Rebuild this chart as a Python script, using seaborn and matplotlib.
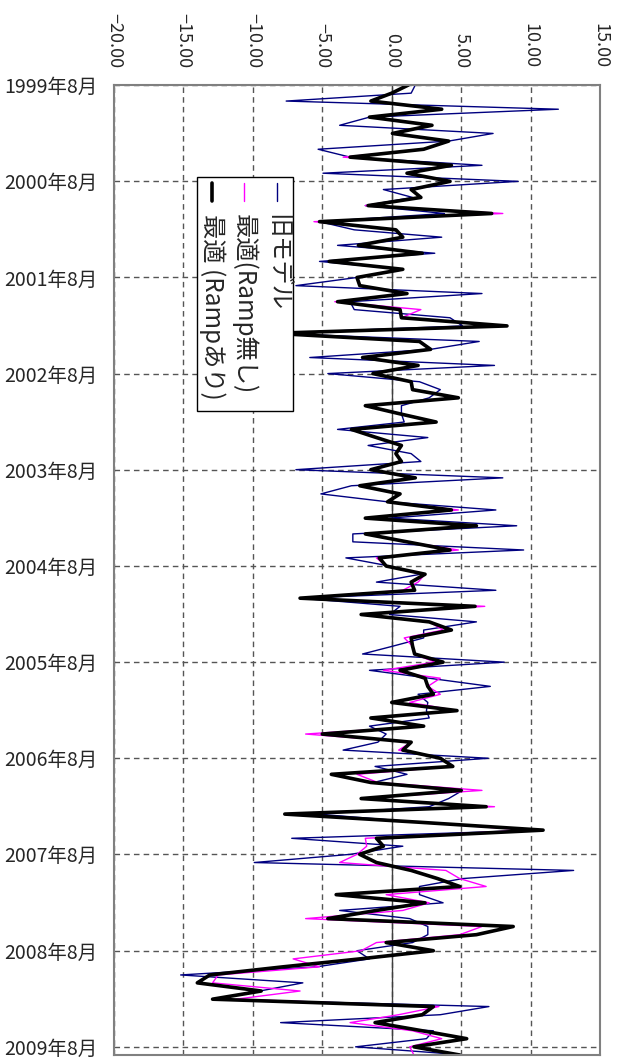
import pandas as pd
import seaborn as sns
import matplotlib.pyplot as plt
from matplotlib.lines import Line2D
from matplotlib.patches import Rectangle

# monthly values, 1999-08 .. 2009-09
old_model = [1.7, 1.4, -7.6, 12.0, -1.6, -3.75, 7.3, 4.1, -5.3, -3.0, 6.5, -4.95,
             9.1, -0.6, 1.5, -1.9, 3.8, -5.2, -2.7, 3.6, -3.9, 3.1, -5.2, 0.8,
             -2.5, -6.9, 6.5, -3.0, -2.7, 4.2, 5.1, -8.5, 6.3, 2.8, -5.9, 7.4,
             -4.6, 2.0, 3.5, 2.7, 0.7, 0.7, 0.9, -3.9, 2.6, -1.7, 1.4, 2.1,
             -6.9, 8.0, -2.9, -5.1, -0.3, 7.5, -0.15, 9.0, -2.8, -2.8, 9.5, -3.3,
             -0.15, 2.1, -1.1, 7.5, -6.6, 0.6, -0.15, 6.1, 2.3, 2.3, 0.1, -2.1,
             8.1, -1.6, 2.7, 7.1, 1.9, 2.6, 2.5, 2.7, -1.6, -0.4, -1.0, -3.5,
             6.95, -1.2, 1.1, -1.3, 5.1, 4.1, 2.7, -5.4, 2.0, 10.7, -7.2, 0.8,
             -3.0, -9.9, 13.1, 5.1, 2.0, 2.0, 3.7, -3.75, 1.3, 2.6, 2.6, 1.5,
             -2.5, -1.6, -5.4, -15.2, -6.4, -9.5, -12.8, 7.0, 3.5, -8.0, 3.0, 2.5,
             -2.6, 5.3]
no_ramp = [1.2, 0.0, -1.5, 3.6, -1.6, 2.9, 0.05, 4.1, 2.3, -3.5, 4.3, 1.1,
           4.2, 1.4, 2.1, -1.9, 8.0, -5.6, 0.3, 0.8, -2.4, 2.2, -4.5, 0.8,
           -2.5, -2.3, 1.1, -4.1, 2.1, 0.7, 8.3, -8.5, 2.0, 2.8, -2.1, 1.9,
           -1.35, 1.4, 1.5, 4.8, -1.9, 0.6, 3.2, -2.9, -1.1, 0.7, 0.3, 0.7,
           -1.5, 1.7, -2.3, 0.6, -0.3, 4.8, -1.9, 6.1, -1.9, 1.1, 4.8, -1.1,
           -0.4, 2.4, 1.9, 0.8, -6.6, 6.7, -2.2, 2.7, 3.7, 0.9, 1.5, 1.65,
           3.1, -0.6, 3.5, 2.6, 3.5, 1.3, 4.7, -1.5, 2.3, -6.2, 1.4, 0.5,
           3.5, 4.4, -2.5, -1.0, 6.5, -2.2, 7.4, -7.7, 2.0, 9.8, -1.9, -1.8,
           -2.5, -3.75, 3.9, 4.9, 6.8, -0.4, 2.7, 0.8, -6.2, 6.5, 4.9, -1.1,
           -2.2, -7.1, -5.2, -12.5, -12.9, -6.6, -11.2, 3.4, 0.5, -3.0, 1.5, 3.6,
           1.3, 1.6]
with_ramp = [1.2, 0.0, -1.5, 3.6, -1.6, 2.9, 0.05, 4.1, 2.3, -3.0, 4.3, 1.1,
             4.2, 1.4, 2.1, -1.7, 7.2, -5.2, 0.3, 0.8, -2.4, 2.2, -4.5, 0.8,
             -2.5, -2.3, 1.1, -3.9, 0.6, 0.7, 8.3, -8.5, 2.0, 2.8, -2.1, 1.9,
             -1.35, 1.4, 1.5, 4.8, -1.9, 0.6, 3.2, -2.9, -1.1, 0.7, 0.3, 0.7,
             -1.5, 1.7, -2.3, 0.6, -0.3, 4.3, -1.9, 6.1, -1.9, 1.1, 4.2, -0.9,
             -0.4, 2.4, 1.4, 1.65, -6.6, 6.0, -2.2, 2.7, 4.3, 1.4, 1.5, 1.65,
             3.7, 0.6, 2.4, 2.6, 3.0, 0.0, 4.7, -1.5, 2.3, -5.0, 1.4, 0.8,
             3.5, 4.4, -4.35, -1.5, 5.0, -2.2, 6.8, -7.7, 2.0, 10.9, -1.1, -0.6,
             -2.3, -1.1, 1.4, 3.3, 4.9, -4.0, 2.4, -1.1, -4.6, 8.75, 6.1, -0.4,
             3.0, -2.3, -7.8, -13.1, -14.0, -9.4, -12.9, 3.0, 2.2, -1.2, 2.2, 5.4,
             1.6, 4.9]

series_names = ["旧モデル", "最適(Ramp無し)", "最適 (Rampあり)"]
series_colors = ["#000080", "#ff00ff", "#000000"]
series_widths = [1.0, 1.0, 2.6]
x_ticks = [-20, -15, -10, -5, 0, 5, 10, 15]

months = pd.date_range("1999-08-01", periods=len(with_ramp), freq="MS")
year_ticks = pd.date_range("1999-08-01", "2009-08-01", freq="12MS")

df = pd.DataFrame({"month": months, series_names[0]: old_model,
                   series_names[1]: no_ramp, series_names[2]: with_ramp})

sns.set_style("white")
plt.rcParams["font.family"] = ["Noto Sans CJK JP", "DejaVu Sans"]

fig = plt.figure(figsize=(6.18, 10.64), dpi=100)
ax = fig.add_axes([114 / 618, 1 - 1055 / 1064, 486 / 618, 970 / 1064])

for name, color, lw in zip(series_names, series_colors, series_widths):
    sns.lineplot(data=df, x=name, y="month", orient="y", sort=False, estimator=None,
                 color=color, linewidth=lw, ax=ax, legend=False)

ax.set_xlim(x_ticks[0], x_ticks[-1])
ax.set_ylim(months[-1], months[0])
ax.set_xlabel("")
ax.set_ylabel("")

ax.xaxis.tick_top()
ax.set_xticks(x_ticks)
ax.set_xticklabels([f"{v:.2f}".replace("-", "\u2212") for v in x_ticks], rotation=-90)
ax.set_yticks(year_ticks)
ax.set_yticklabels([f"{d.year}年{d.month}月" for d in year_ticks])
ax.tick_params(axis="x", length=0, pad=12, labelsize=13)
ax.tick_params(axis="y", length=0, pad=12, labelsize=14)

ax.grid(True, linestyle=(0, (4, 3)), color="#555555", linewidth=1.0)
ax.axvline(0, color="#404040", linewidth=1.0, zorder=1.5)
for s in ax.spines.values():
    s.set_color("#808080")
    s.set_linewidth(1.5)

# rotated legend
fig.add_artist(Rectangle((197 / 618, 1 - 411 / 1064), 96 / 618, 234 / 1064,
                         transform=fig.transFigure, facecolor="white",
                         edgecolor="black", linewidth=1.0, zorder=5))
legend_x = [277, 244, 212]
for name, color, lw, lx in zip(series_names, series_colors, series_widths, legend_x):
    fig.add_artist(Line2D([lx / 618, lx / 618], [1 - 183 / 1064, 1 - 201 / 1064],
                          transform=fig.transFigure, color=color, linewidth=lw, zorder=6))
    fig.text(lx / 618, 1 - 214 / 1064, name, rotation=-90, ha="center", va="top",
             fontsize=17.5, zorder=6)

fig.savefig("out.png", dpi=100)
